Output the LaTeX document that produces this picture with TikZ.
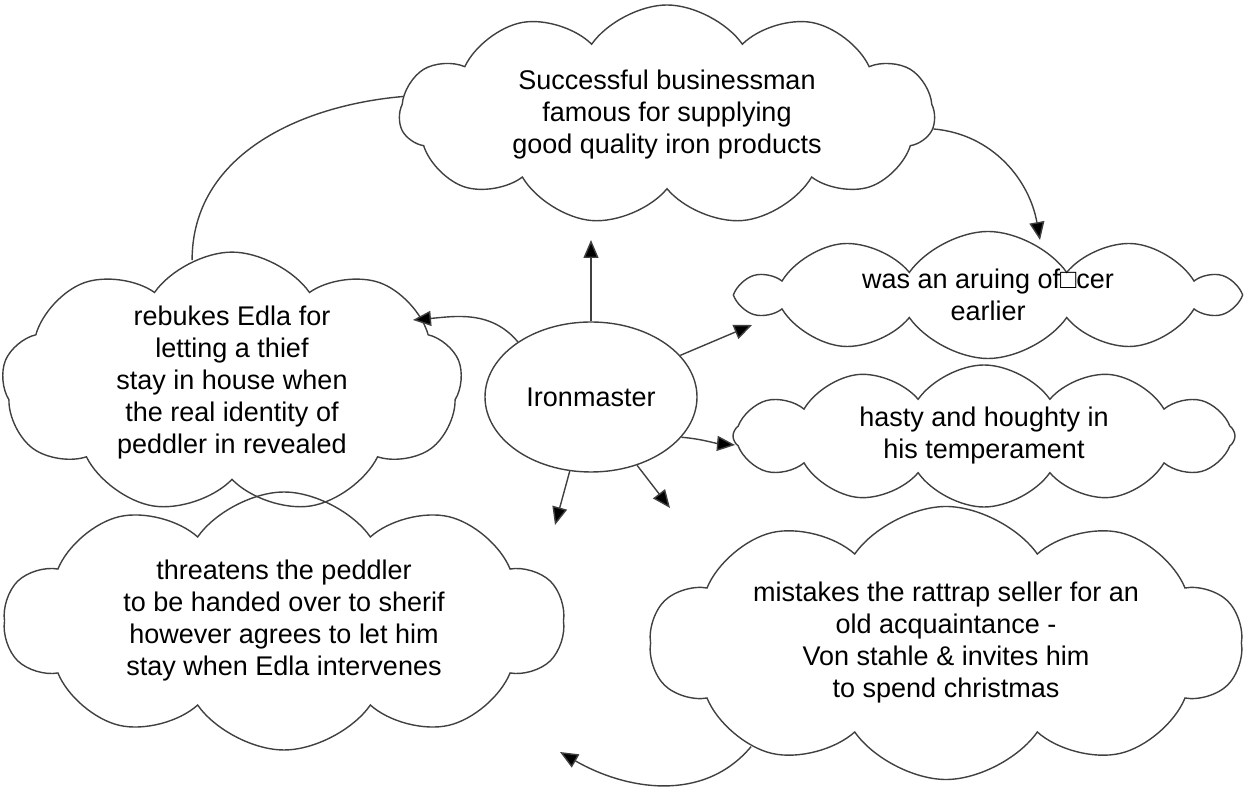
\documentclass[tikz,border=0pt]{standalone}
\usepackage{fontspec}
\setmainfont{Liberation Sans}
\usetikzlibrary{positioning,arrows.meta,shapes.symbols,shapes.geometric}

\begin{document}
\begin{tikzpicture}[x=1pt, y=1pt, font=\fontsize{27}{32}\selectfont,
  c/.style={cloud, draw=black!75, line width=1.4pt, cloud puffs=#1, cloud puff arc=110, cloud ignores aspect, align=center, inner sep=0pt},
  c/.default=10,
  a/.style={-{Triangle[length=18pt, width=15pt, fill=black]}, line width=1.4pt, draw=black!75},
  l/.style={line width=1.4pt, draw=black!75}]
\useasboundingbox (0,0) rectangle (1246,791);
\node[ellipse, l, draw, minimum width=212pt, minimum height=150pt] (iron) at (591,394) {Ironmaster};
\node[c=11, minimum width=535pt, minimum height=220pt] (fame) at (667,676) {Successful businessman\\ famous for supplying\\ good quality iron products};
\node[c=10, shape border rotate=18, minimum width=492pt, minimum height=120pt] (officer) at (988,496) {was an aruing of□cer\\ earlier};
\node[c=12, shape border rotate=15, minimum width=502pt, minimum height=142pt] (hasty) at (984,355) {hasty and houghty in\\ his temperament};
\node[c=9, minimum width=460pt, minimum height=243pt] (rebuke) at (232,408) {rebukes Edla for\\ letting a thief\\ stay in house when\\ the real identity of\\ peddler in revealed};
\node[c=10, minimum width=560pt, minimum height=258pt] (threat) at (284,170) {threatens the peddler\\ to be handed over to sherif\\ however agrees to let him\\ stay when Edla intervenes};
\node[c=10, minimum width=592pt, minimum height=273pt] (mistake) at (946,148) {mistakes the rattrap seller for an\\ old acquaintance -\\ Von stahle \& invites him\\ to spend christmas};
% arrow tips
\coordinate (tFame) at (591,551);
\coordinate (tRebuke) at (413,471);
\coordinate (tOfficer) at (752,466);
\coordinate (tHasty) at (735,346);
\coordinate (tThreat) at (555,266);
\coordinate (tMistake) at (670,283);
\coordinate (tRight) at (1040,551);
\coordinate (tBottom) at (560,39);
\draw[a] (iron.north) -- (tFame);
\draw[a] (iron.143) to[out=130, in=5] (tRebuke);
\draw[a] (iron.25) -- (tOfficer);
\draw[a] (iron.-24) to[out=-5, in=175] (tHasty);
\draw[a] (iron.-106) -- (tThreat);
\draw[a] (iron.-56) -- (tMistake);
\draw[a] (fame.-3) to[out=-5, in=100] (tRight);
\draw[l] (fame.176) to[out=185, in=90] (rebuke.108);
\draw[a] (mistake.208) to[out=-130, in=-30] (tBottom);
\end{tikzpicture}
\end{document}
